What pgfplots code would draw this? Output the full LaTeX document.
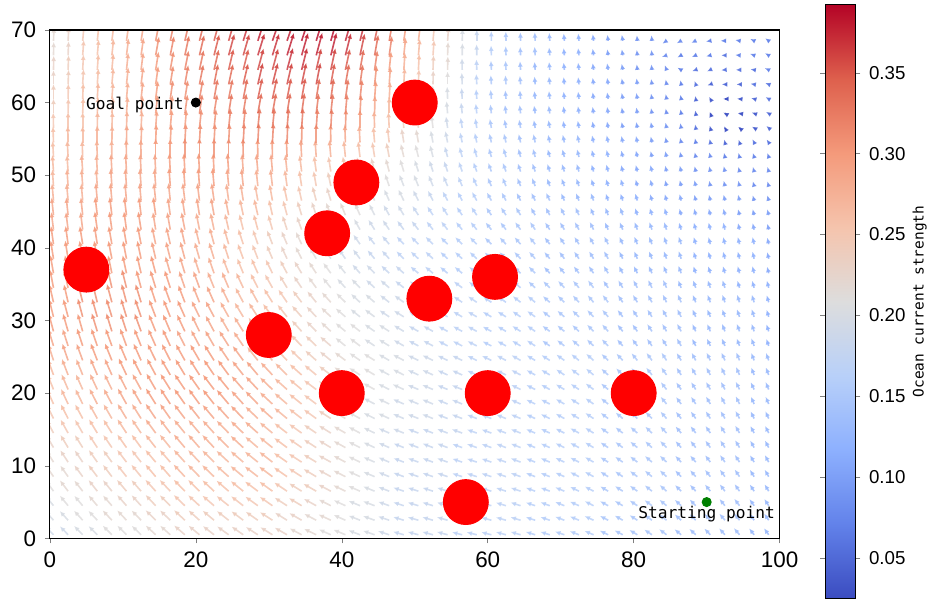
\documentclass[border=0pt]{standalone}
\usepackage{fontspec}
\setmainfont{Liberation Sans}
\newfontfamily\monofont{DejaVu Sans Mono}
\usepackage{pgfplots}
\usepackage{pgfplotstable}
\pgfplotsset{compat=1.18}
\usetikzlibrary{arrows.meta}

% current field on a 2-unit grid: row = y, a<k> = direction (deg), m<k> = strength (x100), column k at x = 2k-1.5
\pgfplotstableread{
y a1 a2 a3 a4 a5 a6 a7 a8 a9 a10 a11 a12 a13 a14 a15 a16 a17 a18 a19 a20 a21 a22 a23 a24 a25 a26 a27 a28 a29 a30 a31 a32 a33 a34 a35 a36 a37 a38 a39 a40 a41 a42 a43 a44 a45 a46 a47 a48 a49 a50 m1 m2 m3 m4 m5 m6 m7 m8 m9 m10 m11 m12 m13 m14 m15 m16 m17 m18 m19 m20 m21 m22 m23 m24 m25 m26 m27 m28 m29 m30 m31 m32 m33 m34 m35 m36 m37 m38 m39 m40 m41 m42 m43 m44 m45 m46 m47 m48 m49 m50
0.5 134 134 134 135 135 135 136 137 138 139 140 142 144 145 147 148 150 152 154 156 157 159 161 162 164 165 165 165 166 166 166 165 164 163 163 161 159 157 154 152 149 146 143 140 137 134 132 130 128 126 19 19 20 20 21 21 21 22 22 23 23 23 23 23 23 23 23 22 22 21 21 20 20 19 18 18 18 18 17 17 17 17 17 16 16 16 16 16 15 15 15 15 15 14 14 14 14 14 13 13
2.5 132 132 132 133 133 133 134 135 136 137 138 140 142 143 145 147 148 150 152 155 156 158 160 161 163 164 164 164 165 165 165 164 163 162 161 159 157 155 152 150 147 144 141 138 135 132 130 128 126 124 20 20 21 21 22 22 22 23 23 24 24 24 24 24 24 24 23 23 22 22 21 20 20 19 18 18 18 18 17 17 17 17 17 16 16 16 16 16 15 15 15 15 15 14 14 14 14 14 13 13
4.5 129 129 130 130 131 131 132 133 135 136 137 139 141 142 144 145 147 149 151 153 155 157 159 160 162 163 163 163 164 164 164 163 162 161 160 158 156 153 151 149 146 143 140 137 134 131 129 127 125 123 20 21 21 22 22 23 23 24 24 25 25 25 25 25 25 25 24 24 23 22 21 20 20 19 18 18 18 18 17 17 17 17 17 16 16 16 16 16 15 15 15 15 15 14 14 14 14 14 13 13
6.5 126 127 128 128 129 130 131 132 133 134 135 137 139 141 143 144 146 148 150 152 154 156 158 159 161 162 162 162 163 163 163 162 161 160 159 157 154 152 149 147 144 141 138 135 132 129 127 125 123 121 21 22 22 23 23 24 24 25 25 26 26 26 26 26 26 26 25 24 24 23 22 21 20 19 18 18 18 18 17 17 17 17 17 16 16 16 16 16 15 15 15 15 15 14 14 14 14 14 13 13
8.5 124 125 126 127 127 128 129 130 131 133 134 136 138 140 142 143 145 147 149 151 153 155 157 158 160 161 161 161 162 162 162 161 160 159 158 156 153 151 148 146 143 140 137 134 131 128 126 124 122 120 22 22 23 24 24 25 25 26 26 27 27 27 27 27 27 27 26 25 24 23 22 21 20 19 18 18 18 18 17 17 17 17 17 16 16 16 16 16 15 15 15 15 15 14 14 14 14 14 13 13
10.5 122 123 124 125 126 127 128 130 131 132 133 135 137 139 141 142 145 147 149 151 152 154 156 157 159 160 160 160 161 161 161 160 159 158 157 155 153 150 148 145 142 139 136 133 130 127 125 123 121 119 22 23 23 24 24 25 25 26 26 27 27 27 27 27 27 27 26 25 24 23 22 21 20 19 18 18 18 18 17 17 17 17 17 16 16 16 16 16 15 15 15 15 15 14 14 14 14 14 13 13
12.5 120 121 122 123 124 125 126 128 129 130 131 133 135 137 139 141 143 145 147 149 151 153 155 156 158 159 159 159 160 160 160 159 158 157 156 154 152 149 146 143 140 137 134 131 128 125 123 121 119 118 23 24 24 25 25 26 26 27 27 28 28 28 28 28 27 27 26 25 24 23 22 21 20 19 18 18 18 18 17 17 17 17 17 16 16 16 16 16 15 15 15 15 15 14 14 14 14 14 13 13
14.5 118 119 120 121 122 123 124 126 127 129 130 132 134 136 138 140 142 144 146 148 150 152 154 156 158 159 159 159 160 160 160 159 158 157 155 153 151 148 145 142 139 136 133 130 127 124 122 120 118 117 24 25 25 26 26 27 27 28 28 28 28 28 28 28 28 27 26 25 24 23 22 21 20 19 19 18 18 18 18 17 17 17 17 16 16 16 16 16 15 15 15 15 15 14 14 14 14 14 13 13
16.5 116 117 118 119 120 121 122 124 125 127 128 130 132 134 136 138 140 142 144 147 149 151 153 155 157 158 158 158 159 159 159 158 157 155 154 151 149 146 143 140 137 134 131 128 125 122 120 118 116 115 25 26 26 27 27 28 28 29 29 29 29 29 29 29 28 28 27 26 25 24 22 21 20 20 19 19 19 18 18 17 17 17 17 16 16 16 16 16 15 15 15 15 15 14 14 14 14 14 13 13
18.5 114 115 116 117 118 119 120 122 123 125 126 128 130 132 134 137 139 141 143 146 148 150 152 154 156 157 157 157 158 158 158 157 156 154 153 150 148 145 142 139 135 132 129 126 123 120 118 116 114 113 26 27 27 28 28 29 29 30 30 30 30 30 30 29 29 28 27 26 25 24 22 21 20 20 19 19 19 18 18 17 17 17 17 16 16 16 16 16 15 15 15 15 15 14 14 14 14 14 13 13
20.5 112 113 114 115 116 117 119 120 122 124 125 127 129 131 133 136 138 140 143 145 147 149 151 153 155 157 157 157 158 158 158 156 154 153 151 149 146 143 140 137 134 131 128 125 122 120 118 116 115 113 26 27 27 28 28 29 29 30 30 30 30 30 30 29 29 28 27 26 25 24 22 21 21 20 20 19 19 18 18 17 17 17 17 16 16 16 16 16 15 15 15 15 15 14 14 14 14 14 13 13
22.5 110 111 112 113 114 115 117 118 120 121 122 124 126 128 130 133 135 138 140 143 145 147 149 151 153 155 155 155 156 156 156 154 152 151 149 146 143 140 138 135 131 128 125 122 120 118 116 114 112 111 27 28 28 29 29 30 30 30 30 30 30 30 30 29 29 28 27 26 25 24 22 21 21 20 20 19 19 18 18 17 17 17 17 16 16 16 16 16 15 15 15 15 15 14 14 14 14 14 13 13
24.5 108 109 110 111 112 113 114 116 117 119 120 122 124 126 128 131 133 136 138 141 143 145 148 150 152 154 154 154 154 154 154 152 150 149 147 144 141 138 136 133 129 126 123 121 118 116 114 112 111 110 28 29 29 30 30 30 30 30 30 30 30 30 29 29 28 27 26 25 24 23 22 21 21 20 20 19 19 18 18 17 17 17 17 16 16 16 16 16 15 15 15 15 15 14 14 14 14 14 13 13
26.5 107 108 108 109 110 110 112 114 115 117 118 120 122 124 126 129 131 134 136 139 141 143 146 148 150 152 152 152 153 153 153 151 149 147 145 142 139 136 134 131 127 125 122 120 117 115 113 111 110 109 29 29 30 30 30 30 30 30 30 29 29 29 29 28 28 27 26 25 24 23 21 21 20 20 19 18 18 17 17 17 16 16 16 16 15 15 15 15 15 14 14 14 14 14 13 13 13 13 13 12
28.5 105 106 106 107 107 108 110 112 113 115 116 118 120 122 124 127 129 132 134 137 140 142 145 147 149 151 151 151 151 151 151 149 147 145 143 140 137 134 131 128 125 123 120 118 115 113 111 110 109 108 30 30 30 31 31 31 31 30 30 30 29 29 28 28 27 26 25 24 23 22 21 21 20 20 19 18 18 17 17 17 16 16 16 16 15 15 15 15 15 14 14 14 14 14 13 13 13 13 13 12
30.5 104 105 105 106 107 107 109 111 112 114 116 118 119 121 123 126 128 131 133 136 139 141 143 146 148 150 150 150 150 150 150 148 146 144 142 139 136 133 130 127 124 122 119 117 114 112 110 109 108 107 30 30 31 31 31 31 31 30 30 30 29 29 28 27 27 26 25 24 23 22 21 20 20 19 19 18 18 17 17 17 16 16 16 16 15 15 15 15 15 14 14 14 14 14 13 13 13 13 13 12
32.5 103 103 104 104 105 105 107 108 110 111 112 114 116 118 119 122 124 127 129 132 135 137 139 142 144 146 146 146 146 146 146 144 142 140 138 135 132 130 127 124 121 119 116 114 112 110 109 108 107 106 30 30 31 31 31 31 31 30 30 30 29 29 28 27 27 26 25 24 23 22 21 20 20 19 19 18 18 17 17 17 16 16 16 16 15 15 15 15 15 14 14 14 14 14 13 13 13 13 13 12
34.5 101 102 102 103 103 104 105 107 108 109 110 112 113 115 117 119 121 124 126 129 132 134 137 139 141 143 143 143 143 143 143 141 139 137 135 132 130 127 124 121 118 116 114 112 110 109 108 107 106 105 30 30 31 31 31 31 30 30 30 29 29 28 28 27 26 25 24 23 22 21 20 20 19 19 18 18 17 17 17 16 16 16 16 15 15 15 15 15 14 14 14 14 14 13 13 13 13 12 12 12
36.5 100 100 101 101 102 102 103 105 106 107 108 109 111 112 114 116 118 121 123 126 129 131 134 136 138 140 140 140 140 140 140 138 136 134 132 129 127 124 121 118 116 114 112 110 108 107 106 105 104 104 30 30 30 30 30 30 30 30 29 29 28 28 27 26 26 25 24 23 22 21 20 19 19 18 18 17 17 16 16 16 15 15 15 15 14 14 14 14 14 13 13 13 13 13 12 12 12 12 12 11
38.5 99 99 100 100 101 101 102 103 104 105 106 107 108 110 111 113 115 117 120 122 125 127 130 132 135 137 137 137 137 137 137 135 133 131 129 126 124 121 119 116 113 112 110 108 107 106 105 104 103 103 30 30 30 30 30 30 30 29 29 29 28 28 27 26 25 24 23 22 21 20 19 19 18 18 17 17 17 16 16 16 15 15 15 15 14 14 14 14 14 13 13 13 13 13 12 12 12 12 12 11
40.5 98 98 99 99 100 100 101 102 103 103 104 105 106 108 109 111 113 115 118 120 123 125 128 130 133 135 135 135 135 135 135 133 131 129 127 124 122 119 117 114 112 111 109 108 106 105 104 104 103 103 30 30 30 30 30 30 30 29 29 29 28 28 27 26 25 24 23 22 21 20 19 19 18 18 17 17 17 16 16 16 15 15 15 15 14 14 14 14 14 13 13 13 13 13 12 12 12 12 12 11
42.5 97 97 97 98 98 98 99 99 100 101 101 102 103 104 105 106 108 110 112 114 117 119 122 124 126 128 128 128 129 129 129 127 126 124 123 121 119 116 114 112 110 109 108 107 105 104 104 103 103 103 29 29 29 30 30 30 30 29 29 29 28 28 27 26 26 25 24 23 22 21 20 20 19 19 18 18 17 17 16 16 15 15 15 15 14 14 14 14 13 13 13 13 13 12 12 12 12 11 11 10
44.5 96 96 96 97 97 97 97 98 98 99 99 100 101 102 103 103 105 107 109 111 112 114 116 119 121 123 123 123 124 124 124 123 121 120 118 117 115 113 111 109 108 107 106 105 104 104 104 104 104 105 29 29 29 30 30 30 30 30 29 29 29 29 28 27 27 26 25 24 23 22 22 21 20 19 19 18 17 17 16 16 15 15 15 14 14 14 14 13 13 13 12 12 12 11 11 11 11 10 10 10
46.5 95 95 95 95 95 95 95 96 96 97 97 98 98 99 100 100 102 103 105 107 108 110 112 114 116 117 117 118 118 119 119 118 117 116 115 114 112 110 109 108 107 106 105 104 103 103 103 104 105 105 28 28 28 29 29 29 29 29 29 29 29 29 28 28 27 27 26 25 24 23 23 22 21 20 20 19 18 17 16 16 15 15 14 14 14 13 13 13 12 12 12 11 11 11 10 10 10 10 9 9
48.5 94 94 94 94 94 94 94 94 94 94 94 95 95 96 96 97 98 99 100 102 103 105 107 109 111 112 112 113 113 114 114 113 112 111 110 110 109 108 107 106 105 104 104 103 103 102 103 104 105 106 27 28 28 28 29 29 29 29 30 30 30 30 29 29 28 28 27 26 25 24 24 23 22 21 20 20 19 18 17 16 15 15 14 14 13 13 13 12 12 12 11 11 10 10 10 9 9 9 8 8
50.5 94 94 94 93 93 93 93 93 93 93 93 93 94 94 95 95 96 97 98 99 100 102 104 105 107 108 108 109 109 110 110 110 109 109 108 108 107 106 105 104 104 104 103 103 102 102 103 104 105 106 27 27 28 28 29 29 29 29 30 30 30 30 30 29 29 29 28 27 26 25 25 24 23 22 21 20 19 18 17 16 15 15 14 14 13 13 13 12 12 11 11 11 10 10 9 9 9 8 8 8
52.5 93 93 92 92 91 91 91 90 90 90 90 90 90 91 91 91 92 93 94 95 96 97 99 101 103 104 104 105 105 106 106 106 105 105 105 105 104 104 103 103 103 103 103 102 102 102 103 105 108 110 26 27 27 28 28 29 29 30 30 31 31 31 31 31 30 30 30 29 28 28 27 26 25 24 22 21 20 18 17 16 15 15 14 14 13 13 13 12 12 11 11 10 10 9 8 8 7 7 7 7
54.5 92 91 90 90 89 89 88 88 87 87 87 87 87 87 87 87 88 89 90 91 92 93 95 97 99 100 101 101 102 102 103 103 103 102 102 102 102 102 102 102 102 102 102 102 101 102 105 110 118 125 26 27 27 28 28 29 29 30 30 31 31 31 31 32 32 32 32 31 31 30 29 28 26 25 23 22 20 19 17 16 15 15 14 14 13 13 13 12 12 11 11 10 9 8 7 6 5 5 6 6
56.5 91 90 90 89 88 88 87 86 85 85 84 84 84 84 84 84 85 86 86 87 88 90 92 93 95 96 97 98 99 99 100 100 100 100 100 100 100 100 100 101 101 101 101 100 100 105 120 140 150 140 25 26 26 27 27 28 28 29 30 30 31 31 32 32 33 33 33 33 32 32 31 30 28 26 24 23 21 19 17 16 15 14 14 13 13 12 12 11 11 10 10 10 9 8 6 4 3 3 4 5
58.5 90 89 88 87 86 86 85 84 83 82 82 81 81 81 80 80 81 82 83 84 85 87 89 90 92 93 94 95 96 96 97 97 97 98 98 98 98 99 99 100 100 100 100 100 100 110 150 170 160 150 24 25 26 27 27 28 29 30 30 31 32 32 33 33 34 34 34 34 33 33 32 31 29 27 25 24 22 20 18 16 15 14 14 13 13 12 12 11 11 10 10 9 8 7 5 3 3 3 4 5
60.5 90 89 88 87 86 85 84 83 82 81 80 80 79 79 78 78 79 80 81 82 82 84 86 87 89 90 91 92 93 94 95 95 95 96 96 96 97 98 99 100 100 100 100 100 100 120 180 175 165 150 24 25 26 27 27 28 29 30 31 31 32 33 33 34 35 35 35 35 34 34 33 32 30 28 26 24 22 20 18 16 15 14 14 13 13 12 12 11 11 10 10 9 8 7 5 4 3 4 5 6
62.5 90 88 87 86 85 84 83 82 81 80 79 79 78 77 77 76 77 78 79 80 80 82 84 86 87 88 89 90 92 93 94 94 95 95 96 96 97 98 99 100 98 98 100 100 110 200 180 180 170 160 23 24 25 26 27 28 29 30 31 32 33 34 34 35 36 36 36 36 36 35 34 33 31 29 27 25 23 21 19 17 15 15 14 13 13 12 12 11 11 10 10 9 8 7 6 5 5 5 6 6
64.5 89 88 87 86 85 84 83 81 80 79 78 77 77 76 75 75 75 76 77 78 78 80 82 84 86 87 88 89 91 92 93 93 94 95 95 96 97 98 99 100 97 97 110 150 200 205 185 180 170 155 23 24 25 26 27 28 29 30 31 32 33 34 35 35 36 36 37 37 36 36 35 34 32 30 28 26 24 22 19 17 15 15 14 13 13 12 12 11 11 10 9 9 8 7 6 6 6 6 6 7
66.5 89 88 86 85 84 83 82 80 79 78 77 76 75 74 73 73 73 74 75 76 76 78 80 82 84 85 86 88 89 91 92 92 93 94 95 96 97 98 99 99 96 96 200 210 205 195 180 175 160 150 22 23 25 26 27 28 29 31 32 33 34 35 36 36 37 37 38 38 38 38 37 36 34 32 29 27 25 22 20 18 16 15 14 14 13 12 12 11 10 10 9 9 8 7 7 7 6 7 7 7
68.5 88 87 85 84 83 82 81 79 78 77 76 75 74 73 72 71 71 72 73 74 74 76 78 80 82 83 85 86 88 90 91 91 92 93 94 95 96 97 98 99 95 95 215 210 205 190 180 170 155 145 22 23 25 26 27 28 29 31 32 33 34 35 36 37 38 38 38 39 39 39 38 37 35 33 30 28 25 23 20 18 16 15 14 14 13 12 12 11 10 10 9 9 8 8 8 7 7 7 7 7
}\field

\begin{document}
\begin{tikzpicture}
\begin{axis}[
name=main,
scale only axis,
width=292.8pt, height=204pt,
xmin=0, xmax=100, ymin=0, ymax=70,
xtick={0,20,...,100}, ytick={0,10,...,70},
tick pos=left, tick align=outside, major tick length=2pt,
ticklabel style={font=\fontsize{9}{10}\selectfont},
/pgf/number format/assume math mode=true,
axis line style={line width=0.5pt},
axis on top,
colormap={coolwarm}{rgb255=(59,76,192) rgb255=(98,130,234) rgb255=(141,176,254) rgb255=(184,208,249) rgb255=(221,221,221) rgb255=(245,196,173) rgb255=(244,154,123) rgb255=(222,96,77) rgb255=(180,4,38)},
point meta min=2.5, point meta max=39.2,
colorbar,
colorbar style={
  at={(parent axis.north east)}, anchor=north west,
  xshift=9.8pt, yshift=10pt,
  scale only axis, width=12pt, height=238pt,
  ytick={5,10,15,20,25,30,35},
  yticklabels={0.05,0.10,0.15,0.20,0.25,0.30,0.35},
  yticklabel style={font=\fontsize{7.5}{8}\selectfont},
  tick align=outside, major tick length=2pt,
  axis line style={line width=0.4pt},
  ylabel={Ocean current strength},
  ylabel shift=-4pt,
  ylabel style={font=\monofont\fontsize{5.8}{6}\selectfont},
},
]
\pgfplotsinvokeforeach{1,...,50}{
\addplot[point meta=\thisrow{m#1}, line width=0.65pt, opacity=0.8,
  quiver={u={0.085*\thisrow{m#1}*cos(\thisrow{a#1})}, v={0.085*\thisrow{m#1}*sin(\thisrow{a#1})},
    colored=mapped color,
    every arrow/.append style={-{Latex[length=2.2pt,width=2pt]}}}]
  table[x expr={2*#1-1.5}, y=y] {\field};
}
% obstacles
\addplot[only marks, mark=*, mark size=9pt, color=red] coordinates {
(5,37) (30,28) (40,20) (60,20) (80,20) (57,5) (52,33) (61,36) (38,42) (42,49) (50,60)};
\addplot[only marks, mark=*, mark size=1.8pt, color=black] coordinates {(20,60)};
\addplot[only marks, mark=*, mark size=1.8pt, color={rgb,255:red,0;green,128;blue,0}] coordinates {(90,5)};
\node[anchor=east, font=\monofont\fontsize{6.5}{7}\selectfont, inner sep=0pt] at (axis cs:18.4,59.7) {Goal point};
\node[anchor=center, font=\monofont\fontsize{6.5}{7}\selectfont, inner sep=0pt] at (axis cs:90,3.3) {Starting point};
\end{axis}
\path ([xshift=-20pt,yshift=12pt]main.north west) ([xshift=61.2pt,yshift=-30.8pt]main.south east);
\end{tikzpicture}
\end{document}
